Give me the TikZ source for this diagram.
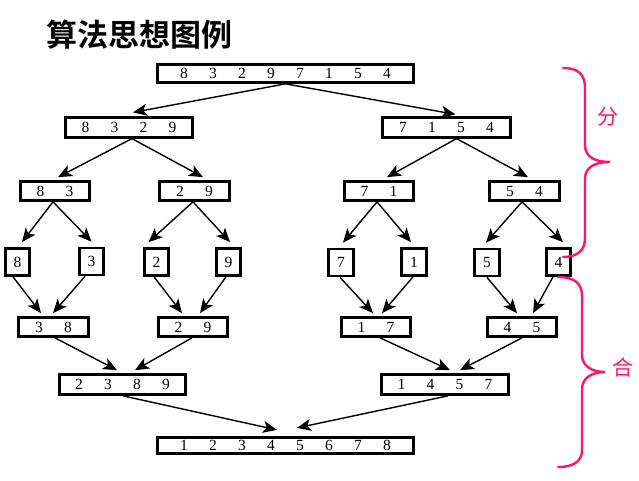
\documentclass[tikz,border=0pt]{standalone}
\usepackage{fontspec}
\setmainfont{Liberation Serif}
\newfontfamily\cjk{Noto Sans CJK SC}
\newfontfamily\cjkbold{Noto Sans CJK SC Bold}
\usetikzlibrary{arrows.meta,calc}
\definecolor{brpink}{RGB}{255,20,110}
\newcommand\dg[1]{\makebox[29pt]{#1}}
\tikzset{
  box/.style={draw, line width=2.7pt, inner sep=0pt, font=\fontsize{15.5}{15.5}\selectfont},
  arr/.style={line width=1.4pt, -{Stealth[length=14pt,width=12pt,inset=3.5pt]}},
  brace/.style={draw=brpink, line width=2.4pt, line cap=round},
  brlabel/.style={text=brpink, font=\cjk\fontsize{21}{21}\selectfont, inner sep=0pt}
}
\begin{document}
\begin{tikzpicture}[x=1pt,y=-1pt]
\useasboundingbox[fill=white] (0,0) rectangle (639,481);
% title
\node[font=\cjkbold\fontsize{31}{31}\selectfont, inner sep=0pt] (title) at (139,35) {算法思想图例};
% level 1
\node[box, minimum width=256pt, minimum height=18pt] (A) at (285.5,73.5) {\dg8\dg3\dg2\dg9\dg7\dg1\dg5\dg4};
% level 2
\node[box, minimum width=127pt, minimum height=19.5pt] (B1) at (129,127.5) {\dg8\dg3\dg2\dg9};
\node[box, minimum width=128pt, minimum height=19.5pt] (B2) at (446.5,127.5) {\dg7\dg1\dg5\dg4};
% level 3
\node[box, minimum width=69pt, minimum height=19pt] (C1) at (55,191) {\dg8\dg3};
\node[box, minimum width=70pt, minimum height=19pt] (C2) at (194.5,191) {\dg2\dg9};
\node[box, minimum width=69pt, minimum height=19pt] (C3) at (379,191) {\dg7\dg1};
\node[box, minimum width=70pt, minimum height=19pt] (C4) at (524.5,191) {\dg5\dg4};
% level 4
\node[box, minimum width=24pt, minimum height=27pt] (D1) at (17.5,262) {8};
\node[box, minimum width=24pt, minimum height=27pt] (D2) at (91.5,261.5) {3};
\node[box, minimum width=24pt, minimum height=27pt] (D3) at (156.5,262) {2};
\node[box, minimum width=24pt, minimum height=27pt] (D4) at (228.5,262) {9};
\node[box, minimum width=25pt, minimum height=27pt] (D5) at (341,262.5) {7};
\node[box, minimum width=25pt, minimum height=27pt] (D6) at (414,262) {1};
\node[box, minimum width=25pt, minimum height=27pt] (D7) at (487,262.5) {5};
\node[box, minimum width=24.5pt, minimum height=27pt] (D8) at (558.5,262) {4};
% level 5
\node[box, minimum width=70pt, minimum height=19pt] (E1) at (53.5,327) {\dg3\dg8};
\node[box, minimum width=69pt, minimum height=19pt] (E2) at (193,327) {\dg2\dg9};
\node[box, minimum width=69pt, minimum height=19pt] (E3) at (376,327) {\dg1\dg7};
\node[box, minimum width=69pt, minimum height=19pt] (E4) at (522,327) {\dg4\dg5};
% level 6
\node[box, minimum width=126pt, minimum height=20pt] (F1) at (122.5,384.5) {\dg2\dg3\dg8\dg9};
\node[box, minimum width=127pt, minimum height=20pt] (F2) at (445,384.5) {\dg1\dg4\dg5\dg7};
% level 7
\node[box, minimum width=256pt, minimum height=16.5pt] (G) at (285.5,445.5) {\dg1\dg2\dg3\dg4\dg5\dg6\dg7\dg8};
% split arrows
\draw[arr] (A.south) -- ($(B1.north)+(4,-4)$);
\draw[arr] (A.south) -- ($(B2.north)+(9,-2)$);
\draw[arr] ($(B1.south)+(3,0)$) -- ($(C1.north)+(3,-3)$);
\draw[arr] ($(B1.south)+(3,0)$) -- ($(C2.north)+(8.5,-3)$);
\draw[arr] ($(B2.south)+(10,0)$) -- ($(C3.north)+(8,-3)$);
\draw[arr] ($(B2.south)+(10,0)$) -- ($(C4.north)+(3.5,-3)$);
\draw[arr] ($(C1.south)+(-2,0)$) -- ($(D1.north)+(4.5,-5)$);
\draw[arr] ($(C1.south)+(-2,0)$) -- ($(D2.north)+(0,-5)$);
\draw[arr] ($(C2.south)+(-1.5,0)$) -- ($(D3.north)+(-8,-5)$);
\draw[arr] ($(C2.south)+(-1.5,0)$) -- ($(D4.north)+(1.5,-5)$);
\draw[arr] ($(C3.south)+(-2,0)$) -- ($(D5.north)+(2,-5)$);
\draw[arr] ($(C3.south)+(-2,0)$) -- ($(D6.north)+(-3,-5)$);
\draw[arr] ($(C4.south)+(-2.5,0)$) -- ($(D7.north)+(-1,-5)$);
\draw[arr] ($(C4.south)+(-2.5,0)$) -- ($(D8.north)+(4.5,-5)$);
% merge arrows
\draw[arr] ($(D1.south)+(-4.5,0)$) -- ($(E1.north)+(-12.5,-3)$);
\draw[arr] ($(D2.south)+(-6.5,0)$) -- ($(E1.north)+(-0.5,-3)$);
\draw[arr] ($(D3.south)+(-2.5,0)$) -- ($(E2.north)+(-11,-3)$);
\draw[arr] ($(D4.south)+(-2.5,0)$) -- ($(E2.north)+(7,-3)$);
\draw[arr] ($(D5.south)+(-1,0)$) -- ($(E3.north)+(-3,-3)$);
\draw[arr] ($(D6.south)+(-1,0)$) -- ($(E3.north)+(6,-3)$);
\draw[arr] (D7.south) -- ($(E4.north)+(-5,-3)$);
\draw[arr] ($(D8.south)+(-5.5,0)$) -- ($(E4.north)+(11,-3)$);
\draw[arr] ($(E1.south)+(1.5,0)$) -- ($(F1.north)+(-5.5,-3)$);
\draw[arr] ($(E2.south)+(-1,0)$) -- ($(F1.north)+(12.5,-3)$);
\draw[arr] ($(E3.south)+(4,0)$) -- ($(F2.north)+(5,-3)$);
\draw[arr] (E4.south) -- ($(F2.north)+(15,-3)$);
\draw[arr] ($(F1.south)+(0.5,0)$) -- ($(G.north)+(-8.5,-6)$);
\draw[arr] ($(F2.south)+(3,0)$) -- ($(G.north)+(11.5,-8)$);
% braces
\draw[brace] (563,68) .. controls (579,68) and (585,75) .. (585,88) -- (585,145)
  .. controls (585,157) and (595,162) .. (610,162)
  .. controls (595,162) and (585,167) .. (585,179) -- (585,238)
  .. controls (585,250) and (578,257) .. (563,257);
\draw[brace] (558,277) .. controls (574,277) and (582,283) .. (582,296) -- (582,355)
  .. controls (582,366) and (592,372) .. (605,372)
  .. controls (592,372) and (582,378) .. (582,389) -- (582,450)
  .. controls (582,461) and (574,467) .. (558,467);
\node[brlabel] (fen) at (608,117) {分};
\node[brlabel] (he) at (623,367) {合};
\end{tikzpicture}
\end{document}
